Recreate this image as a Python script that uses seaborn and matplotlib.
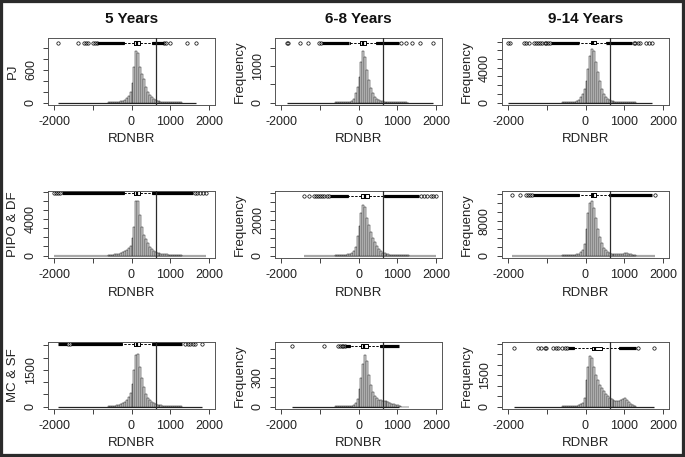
import numpy as np
import pandas as pd
import matplotlib
matplotlib.use('Agg')
import matplotlib.pyplot as plt
from matplotlib.patches import Rectangle
import seaborn as sns

sns.set_style('ticks')
plt.rcParams['font.family'] = ['Liberation Sans', 'DejaVu Sans']

groups = ['PJ', 'PIPO & DF', 'MC & SF']
periods = ['5 Years', '6-8 Years', '9-14 Years']

# histogram bins (RDNBR, width 50)
bin_left = list(range(-600, 1300, 50))
bin_edges = bin_left + [1300]

# bar heights, one list per vegetation group / period
counts_pj_5 = [2, 3, 4, 6, 9, 14, 20, 30, 48, 75, 120, 200, 360, 640, 935, 900, 640, 520, 420,
               280, 200, 140, 95, 70, 50, 35, 22, 15, 10, 7, 5, 4, 3, 2, 2, 1, 1, 1]
counts_pj_68 = [2, 3, 4, 5, 7, 10, 14, 22, 40, 100, 250, 420, 700, 1100, 1400, 1250, 900, 620, 400,
                260, 160, 100, 65, 45, 30, 22, 16, 12, 9, 7, 5, 4, 3, 2, 1, 1, 1, 0]
counts_pj_914 = [15, 20, 25, 30, 40, 50, 60, 150, 300, 600, 1000, 1500, 2500, 3900, 5300, 6200, 5900,
                 4700, 3500, 2500, 1600, 1000, 650, 420, 270, 180, 120, 80, 55, 40, 30, 22, 16, 12, 8, 6, 4, 3]
counts_pipo_5 = [60, 80, 100, 130, 170, 220, 280, 360, 460, 600, 800, 1100, 1900, 3100, 6000, 6050, 4500,
                 3100, 2300, 1800, 1350, 950, 700, 500, 380, 300, 250, 210, 180, 150, 130, 110, 90, 70, 55, 40, 30, 20]
counts_pipo_68 = [10, 15, 20, 25, 35, 50, 70, 100, 150, 250, 500, 1100, 1650, 2400, 2850, 2750, 2100,
                  1700, 1350, 1000, 750, 550, 380, 260, 170, 120, 85, 60, 45, 32, 24, 18, 14, 10, 8, 6, 4, 3]
counts_pipo_914 = [30, 40, 55, 70, 100, 140, 200, 300, 450, 700, 1200, 2600, 6000, 9800, 12000, 12500, 11000,
                   8500, 6000, 4200, 2800, 1800, 1200, 800, 550, 420, 350, 300, 280, 300, 360, 430, 500, 520,
                   450, 300, 160, 80]
counts_mc_5 = [20, 25, 32, 40, 55, 75, 100, 140, 190, 270, 380, 550, 900, 1500, 2100, 2140, 1600, 1150, 780,
               520, 360, 260, 190, 140, 105, 80, 60, 45, 35, 27, 20, 15, 12, 9, 7, 5, 4, 3]
counts_mc_68 = [1, 1, 2, 2, 3, 4, 5, 7, 10, 18, 35, 80, 180, 300, 440, 534, 470, 330, 220, 150, 110, 85, 72,
                66, 62, 60, 55, 45, 38, 30, 22, 16, 12, 5, 0, 0, 0, 0]
counts_mc_914 = [5, 6, 8, 10, 14, 20, 30, 45, 70, 110, 170, 400, 1250, 1900, 2400, 2300, 1900, 1500, 1250,
                 1050, 880, 720, 600, 480, 400, 340, 300, 270, 250, 260, 300, 360, 400, 330, 220, 120, 60, 25]

# boxplot: whisker low, q1, median, q3, whisker high
box_pj_5 = [-190, 60, 150, 231, 530]
box_pj_68 = [-231, 26, 128, 197, 453]
box_pj_914 = [-168, 133, 194, 280, 520]
box_pipo_5 = [-197, 60, 145, 231, 530]
box_pipo_68 = [-274, 68, 171, 265, 667]
box_pipo_914 = [-168, 133, 194, 280, 606]
box_mc_5 = [-239, 60, 145, 231, 530]
box_mc_68 = [-214, 68, 153, 239, 556]
box_mc_914 = [-297, 159, 237, 434, 865]

# single outliers that can be told apart
out_pj_5 = [-1890, -1376, -1239, -1180, -1137, -1008, -950, -900, 850, 880, 1000, 1444, 1658]
out_pj_68 = [-1854, -1830, -1513, -1316, -1017, -980, 1100, 1223, 1378, 1590, 1931]
out_pj_914 = [-2000, -1950, -1590, -1540, -1460, -1330, -1280, -1230, -1170, -1120, -1060, -1010,
              -960, -910, 1260, 1293, 1350, 1420, 1560, 1650, 1724]
out_pipo_5 = [-2000, -1960, -1890, -1850, 1640, 1700, 1770, 1850, 1930]
out_pipo_68 = [-1402, -1273, -1145, -1100, -1050, -990, -940, -880, -820, -770,
               1620, 1700, 1780, 1870, 1940, 1992]
out_pipo_914 = [-1914, -1690, -1550, -1500, -1440, -1375, 1790]
out_mc_5 = [-1640, -1600, 1385, 1450, 1520, 1580, 1650, 1816]
out_mc_68 = [-1709, -889, -530, -480, -430, -390, -359]
out_mc_914 = [-1845, -1217, -1157, -1045, -1011, -830, -770, -700, -600, -540, -469, 1360, 1770]

# stretches where outlier circles overlap into a solid bar
dense_pj_5 = [(-880, -197), (535, 829)]
dense_pj_68 = [(-957, -235), (455, 1051)]
dense_pj_914 = [(-880, -170), (525, 1208)]
dense_pipo_5 = [(-1800, -200), (535, 1600)]
dense_pipo_68 = [(-744, -278), (670, 1560)]
dense_pipo_914 = [(-1360, -170), (610, 1724)]
dense_mc_5 = [(-1889, -1680), (-1560, -245), (535, 1299)]
dense_mc_68 = [(-340, -216), (560, 1051)]
dense_mc_914 = [(-460, -300), (870, 1295)]

threshold = 641

counts = [[counts_pj_5, counts_pj_68, counts_pj_914],
          [counts_pipo_5, counts_pipo_68, counts_pipo_914],
          [counts_mc_5, counts_mc_68, counts_mc_914]]
boxes = [[box_pj_5, box_pj_68, box_pj_914],
         [box_pipo_5, box_pipo_68, box_pipo_914],
         [box_mc_5, box_mc_68, box_mc_914]]
outliers = [[out_pj_5, out_pj_68, out_pj_914],
            [out_pipo_5, out_pipo_68, out_pipo_914],
            [out_mc_5, out_mc_68, out_mc_914]]
dense = [[dense_pj_5, dense_pj_68, dense_pj_914],
         [dense_pipo_5, dense_pipo_68, dense_pipo_914],
         [dense_mc_5, dense_mc_68, dense_mc_914]]

# axis settings per panel: y top, tick step, last tick, labelled ticks, boxplot height fraction
y_top = [[1175, 1760, 7430], [7100, 3640, 14800], [2636, 670, 3080]]
y_step = [[200, 500, 1000], [1000, 500, 2000], [500, 100, 500]]
y_last = [[1000, 1500, 7000], [7000, 3500, 14000], [2500, 600, 3000]]
y_lab = [[(0, 600), (0, 1000), (0, 4000)], [(0, 4000), (0, 2000), (0, 8000)], [(0, 1500), (0, 300), (0, 1500)]]
box_frac = [[0.925, 0.928, 0.93], [0.965, 0.92, 0.944], [0.965, 0.933, 0.9]]

W, H = 685, 457
col_left = [48, 275, 502]
row_top = [38, 191, 342]
box_w, box_h = 167, 67

fig = plt.figure(figsize=(6.85, 4.57), dpi=100)

for r in range(3):
    for c in range(3):
        ax = fig.add_axes([col_left[c] / W, 1 - (row_top[r] + box_h) / H, box_w / W, box_h / H])
        U = y_top[r][c]

        # zero-height bars over the whole data range
        out = outliers[r][c]
        ends = out + [v for band in dense[r][c] for v in band]
        base_col, base_lw = ('#a8a8a8', 1.6) if r == 1 else ('#222222', 0.9)
        ax.hlines(0, min(ends), max(ends), color=base_col, lw=base_lw, zorder=1)

        df = pd.DataFrame({'rdnbr': [x + 25 for x in bin_left], 'n': counts[r][c]})
        sns.histplot(data=df, x='rdnbr', weights='n', bins=bin_edges, ax=ax,
                     color='#dcdcdc', edgecolor='#1a1a1a', linewidth=0.35, alpha=1, zorder=2)
        ax.set_xlabel('')
        ax.set_ylabel('')

        ypos = box_frac[r][c] * U
        b = boxes[r][c]
        stats = [dict(whislo=b[0], q1=b[1], med=b[2], q3=b[3], whishi=b[4], fliers=out)]
        kw = dict(positions=[ypos], widths=[0.06 * U], manage_ticks=False,
                  boxprops=dict(color='black', lw=0.7),
                  whiskerprops=dict(color='black', lw=0.7, linestyle=(0, (2.5, 1.5))),
                  capprops=dict(color='black', lw=0.7),
                  medianprops=dict(color='black', lw=1.6),
                  flierprops=dict(marker='o', markersize=2.4, markerfacecolor='none',
                                  markeredgecolor='black', markeredgewidth=0.5, linestyle='none'))
        try:
            ax.bxp(stats, orientation='horizontal', **kw)
        except TypeError:
            ax.bxp(stats, vert=False, **kw)
        for lo, hi in dense[r][c]:
            ax.hlines(ypos, lo, hi, color='black', lw=2.3, zorder=4)

        ax.axvline(threshold, color='#2a2a2a', lw=0.9, zorder=5)

        ax.set_xlim(-2160, 2160)
        ax.set_ylim(-0.0385 * U, U)
        ax.set_xticks([-2000, -1000, 0, 1000, 2000])
        ax.set_xticklabels(['-2000', '', '0', '1000', '2000'])
        yt = np.arange(0, y_last[r][c] + 1, y_step[r][c])
        ax.set_yticks(yt)
        ax.set_yticklabels([str(v) if v in y_lab[r][c] else '' for v in yt])
        for lab in ax.get_yticklabels():
            lab.set_rotation(90)
            lab.set_va('center')
        ax.tick_params(direction='out', length=3.5, width=0.6, colors='#222222', labelsize=9, pad=4.5)
        for s in ax.spines.values():
            s.set_color('#555555')
            s.set_linewidth(0.7)

        ax.text(0.5, -34.5 / box_h, 'RDNBR', transform=ax.transAxes, ha='center', va='center',
                fontsize=9.5, color='#222222')
        ylabel = groups[r] if c == 0 else 'Frequency'
        ax.text(-35.5 / box_w, 0.5, ylabel, transform=ax.transAxes, rotation=90, ha='center',
                va='center', fontsize=9.5, color='#222222')
        if r == 0:
            ax.text(0.5, 1 + 19 / box_h, periods[c], transform=ax.transAxes, ha='center', va='center',
                    fontsize=11, fontweight='bold', color='#111111')

fig.add_artist(Rectangle((0, 0), 1, 1, transform=fig.transFigure, fill=False,
                         edgecolor='#2b2b2b', lw=4.5))

fig.savefig('out.png', dpi=100)
